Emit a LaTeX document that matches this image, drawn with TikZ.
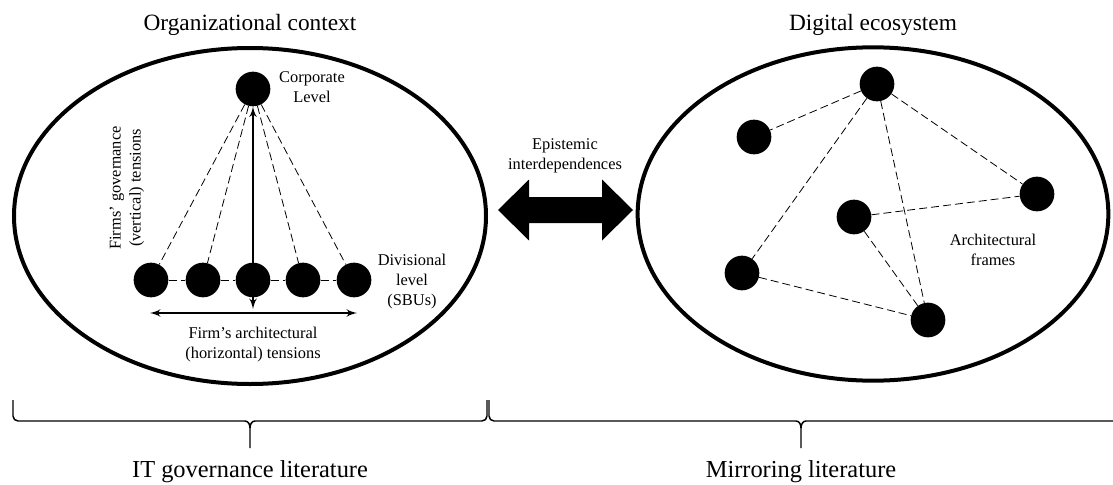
\documentclass[tikz,border=0pt]{standalone}
\usepackage{fontspec}
\setmainfont{Liberation Serif}
\usetikzlibrary{arrows,shapes.geometric}

\begin{document}
\begin{tikzpicture}[x=0.75pt,y=-0.75pt]

		\tikzset{vertex/.style = {shape=circle,fill=black,minimum size=26pt,inner sep=0pt}}
		\tikzset{edge/.style = {-,dash pattern=on 6pt off 3pt,line width=0.6pt}}
		\tikzset{strain/.style = {<->,> = latex',line width=1.7pt}}
		\tikzset{sphere/.style = {shape=ellipse,draw,line width=3pt}}
		\tikzset{note/.style = {align=center,font=\fontsize{12.3}{15}\selectfont}}
		\tikzset{heading/.style = {font=\fontsize{17.5}{20}\selectfont}}
		\tikzset{bracket/.style = {line width=1.1pt}}
		\useasboundingbox (0,0) rectangle (1113,485);
		% the two contexts
		\node[sphere,minimum width=354pt,minimum height=252pt] (org) at (250,216) {};
		\node[sphere,minimum width=353pt,minimum height=250pt] (eco) at (873,214) {};
		\node[heading] (orgtitle) at (250,25) {Organizational context};
		\node[heading] (ecotitle) at (873,25) {Digital ecosystem};
		% organizational context
		\node[vertex] (C) at (253,89) {};
		\node[vertex] (D1) at (151,280) {};
		\node[vertex] (D2) at (203,280) {};
		\node[vertex] (D3) at (253,280) {};
		\node[vertex] (D4) at (303,280) {};
		\node[vertex] (D5) at (354,280) {};
		\coordinate (vbot) at (253,309);
		\coordinate (hL) at (150,313);
		\coordinate (hR) at (357,313);
		\node[note] (corp) at (312,87) {Corporate\\Level};
		\node[note] (div) at (412,282) {Divisional\\level\\(SBUs)};
		\node[note] (horiz) at (253,345) {Firm's architectural\\(horizontal) tensions};
		\node[note,rotate=90] (vert) at (127,188) {Firms' governance\\(vertical) tensions};
		%edges
		\draw[edge] (C) to (D1);
		\draw[edge] (C) to (D2);
		\draw[edge] (C) to (D4);
		\draw[edge] (C) to (D5);
		\draw[edge] (D1) to (D2);
		\draw[edge] (D2) to (D3);
		\draw[edge] (D3) to (D4);
		\draw[edge] (D4) to (D5);
		\draw[strain] (C) to (vbot);
		\draw[strain] (hL) to (hR);
		% digital ecosystem
		\node[vertex] (A) at (877,84) {};
		\node[vertex] (B) at (754,137) {};
		\node[vertex] (E) at (1037,194) {};
		\node[vertex] (F) at (854,217) {};
		\node[vertex] (G) at (742,273) {};
		\node[vertex] (H) at (928,320) {};
		\node[note] (frames) at (993,250) {Architectural\\frames};
		\draw[edge] (A) to (B);
		\draw[edge] (A) to (G);
		\draw[edge] (A) to (H);
		\draw[edge] (A) to (E);
		\draw[edge] (F) to (E);
		\draw[edge] (F) to (H);
		\draw[edge] (G) to (H);
		% epistemic interdependences
		\coordinate (epiL) at (498,210);
		\coordinate (epiR) at (633,210);
		\node[note] (epi) at (565,156) {Epistemic\\interdependences};
		\fill (epiL) -- ++(31,-30.5) -- ++(0,17.5) -- ++(73,0) -- ++(0,-17.5) -- (epiR)
			-- ++(-31,30.5) -- ++(0,-17.5) -- ++(-73,0) -- ++(0,17.5) -- cycle;
		% literatures
		\draw[bracket] (13,400) -- (13,416) to[out=-90,in=180] (18,421) -- (245,421)
			to[out=0,in=90] (250,428) -- (250,448);
		\draw[bracket] (250,428) to[out=90,in=180] (255,421) -- (482,421)
			to[out=0,in=-90] (487,416) -- (487,400);
		\draw[bracket] (489,400) -- (489,416) to[out=-90,in=180] (494,421) -- (796,421)
			to[out=0,in=90] (801,428) -- (801,448);
		\draw[bracket] (801,428) to[out=90,in=180] (806,421) -- (1113,421);
		\node[heading,font=\fontsize{18.3}{21}\selectfont] (itgov) at (250,472) {IT governance literature};
		\node[heading,font=\fontsize{18.3}{21}\selectfont] (mirror) at (801,472) {Mirroring literature};
		\end{tikzpicture}
\end{document}
